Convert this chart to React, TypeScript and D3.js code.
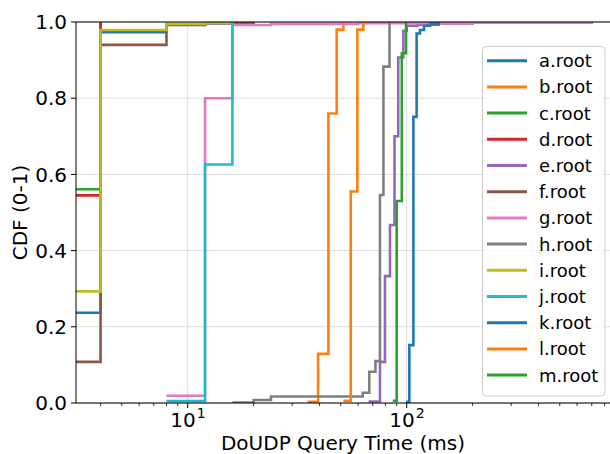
import React from 'react';
import * as d3 from 'd3';

// CDF points per root server: [query time (ms), cumulative fraction]
const aRoot = [[3, 0.237], [4, 0.973], [8, 0.993], [12, 0.997], [16, 1.0]];
const bRoot = [[35.3, 0.003], [39.4, 0.129], [43.9, 0.76], [47.9, 0.98], [51.4, 1.0]];
const cRoot = [[3, 0.561], [4, 1.0]];
const dRoot = [[3, 0.545], [4, 1.0]];
const eRoot = [[67, 0.004], [75.5, 0.108], [79.6, 0.333], [83.9, 0.467], [88, 0.7], [91.5, 0.907], [96.5, 0.977], [100, 0.99], [112, 0.993], [140, 0.996], [200, 0.998], [400, 0.999], [700, 1.0]];
const fRoot = [[3, 0.108], [4, 0.94], [8, 0.992], [12, 0.997], [20, 1.0]];
const gRoot = [[8, 0.019], [12, 0.8], [16, 0.992], [24, 0.995], [60, 0.997], [200, 0.998], [700, 1.0]];
const hRoot = [[16, 0.001], [20, 0.008], [24, 0.017], [63, 0.027], [67.5, 0.082], [72, 0.11], [75.5, 0.546], [78.3, 0.883], [83.5, 1.0]];
const iRoot = [[3, 0.293], [4, 0.979], [8, 0.995], [12, 0.998], [16, 1.0]];
const jRoot = [[8, 0.005], [12, 0.626], [16, 1.0]];
const kRoot = [[99.3, 0.003], [102.8, 0.152], [107.3, 0.751], [111, 0.97], [115, 0.979], [120, 0.99], [128, 0.995], [140, 1.0]];
const lRoot = [[51.4, 0.006], [55.5, 0.555], [59.5, 0.98], [63.4, 1.0]];
const mRoot = [[86.4, 0.006], [90, 0.53], [95, 0.918], [99.3, 1.0]];

const names = ['a.root', 'b.root', 'c.root', 'd.root', 'e.root', 'f.root', 'g.root', 'h.root', 'i.root', 'j.root', 'k.root', 'l.root', 'm.root'];
const seriesData = [aRoot, bRoot, cRoot, dRoot, eRoot, fRoot, gRoot, hRoot, iRoot, jRoot, kRoot, lRoot, mRoot];
const colors = ['#1f77b4', '#ff7f0e', '#2ca02c', '#d62728', '#9467bd', '#8c564b', '#e377c2', '#7f7f7f', '#bcbd22', '#17becf', '#1f77b4', '#ff7f0e', '#2ca02c'];

const yTicks = [0, 0.2, 0.4, 0.6, 0.8, 1.0];
const xMajor = [10, 100];
const xMinor = [4, 5, 6, 7, 8, 9, 20, 30, 40, 50, 60, 70, 80, 90, 200, 300, 400, 500, 600, 700, 800];

const width = 610;
const height = 454;
const m = { left: 76, top: 22, right: 612, bottom: 403 };
const font = 'DejaVu Sans, sans-serif';

export default function App() {
  const x = d3.scaleLog().domain([3.09, 866]).range([m.left, m.right]);
  const y = d3.scaleLinear().domain([0, 1]).range([m.bottom, m.top]);

  const line = d3.line<number[]>()
    .x(d => x(d[0]))
    .y(d => y(d[1]))
    .curve(d3.curveStepAfter);

  const legX = 482.5;
  const legY = 46.5;
  const rowH = 26.2;

  return (
    <svg width={width} height={height} style={{ position: 'absolute', left: 0, top: 0 }} fontFamily={font}>
      <defs>
        <clipPath id="plot">
          <rect x={m.left} y={m.top} width={m.right - m.left} height={m.bottom - m.top} />
        </clipPath>
      </defs>
      <rect width={width} height={height} fill="#fff" />

      {/* grid */}
      <g stroke="#dcdcdc" strokeWidth={1}>
        {yTicks.map(t => (
          <line key={t} x1={m.left} x2={m.right} y1={y(t)} y2={y(t)} />
        ))}
        {xMajor.map(t => (
          <line key={t} x1={x(t)} x2={x(t)} y1={m.top} y2={m.bottom} />
        ))}
      </g>

      {/* series */}
      <g clipPath="url(#plot)">
        {seriesData.map((s, i) => (
          <path key={names[i]} d={line(s) || ''} fill="none" stroke={colors[i]} strokeWidth={2.6} strokeLinejoin="miter" />
        ))}
      </g>

      {/* spines */}
      <g stroke="#000" strokeWidth={1}>
        <line x1={m.left} x2={m.left} y1={m.top} y2={m.bottom} />
        <line x1={m.left} x2={m.right} y1={m.bottom} y2={m.bottom} />
        <line x1={m.left} x2={m.right} y1={m.top} y2={m.top} />
        <line x1={m.right} x2={m.right} y1={m.top} y2={m.bottom} />
      </g>

      {/* y axis */}
      {yTicks.map(t => (
        <g key={t}>
          <line x1={m.left - 5} x2={m.left} y1={y(t)} y2={y(t)} stroke="#000" strokeWidth={1} />
          <text x={m.left - 9} y={y(t)} dy="0.36em" textAnchor="end" fontSize={20} fill="#000">
            {t.toFixed(1)}
          </text>
        </g>
      ))}

      {/* x axis */}
      {xMinor.map(t => (
        <line key={t} x1={x(t)} x2={x(t)} y1={m.bottom} y2={m.bottom + 3} stroke="#000" strokeWidth={0.8} />
      ))}
      {xMajor.map((t, i) => (
        <g key={t}>
          <line x1={x(t)} x2={x(t)} y1={m.bottom} y2={m.bottom + 5} stroke="#000" strokeWidth={1} />
          <text x={x(t) + 8} y={427} textAnchor="end" fontSize={20} fill="#000">10</text>
          <text x={x(t) + 9} y={418} textAnchor="start" fontSize={14} fill="#000">{i + 1}</text>
        </g>
      ))}

      <text x={(m.left + m.right) / 2 - 1} y={450} textAnchor="middle" fontSize={20} fill="#000">
        DoUDP Query Time (ms)
      </text>
      <text transform={`translate(27, ${(m.top + m.bottom) / 2}) rotate(-90)`} textAnchor="middle" fontSize={20} fill="#000">
        CDF (0-1)
      </text>

      {/* legend */}
      <rect x={legX} y={legY} width={122.5} height={349.5} rx={4} fill="#fff" fillOpacity={0.8} stroke="#cccccc" strokeWidth={1} />
      {names.map((n, i) => {
        const cy = legY + 14.2 + i * rowH;
        return (
          <g key={n}>
            <line x1={487} x2={527} y1={cy} y2={cy} stroke={colors[i]} strokeWidth={3} />
            <text x={539} y={cy} dy="0.36em" fontSize={18} fill="#000">{n}</text>
          </g>
        );
      })}
    </svg>
  );
}
